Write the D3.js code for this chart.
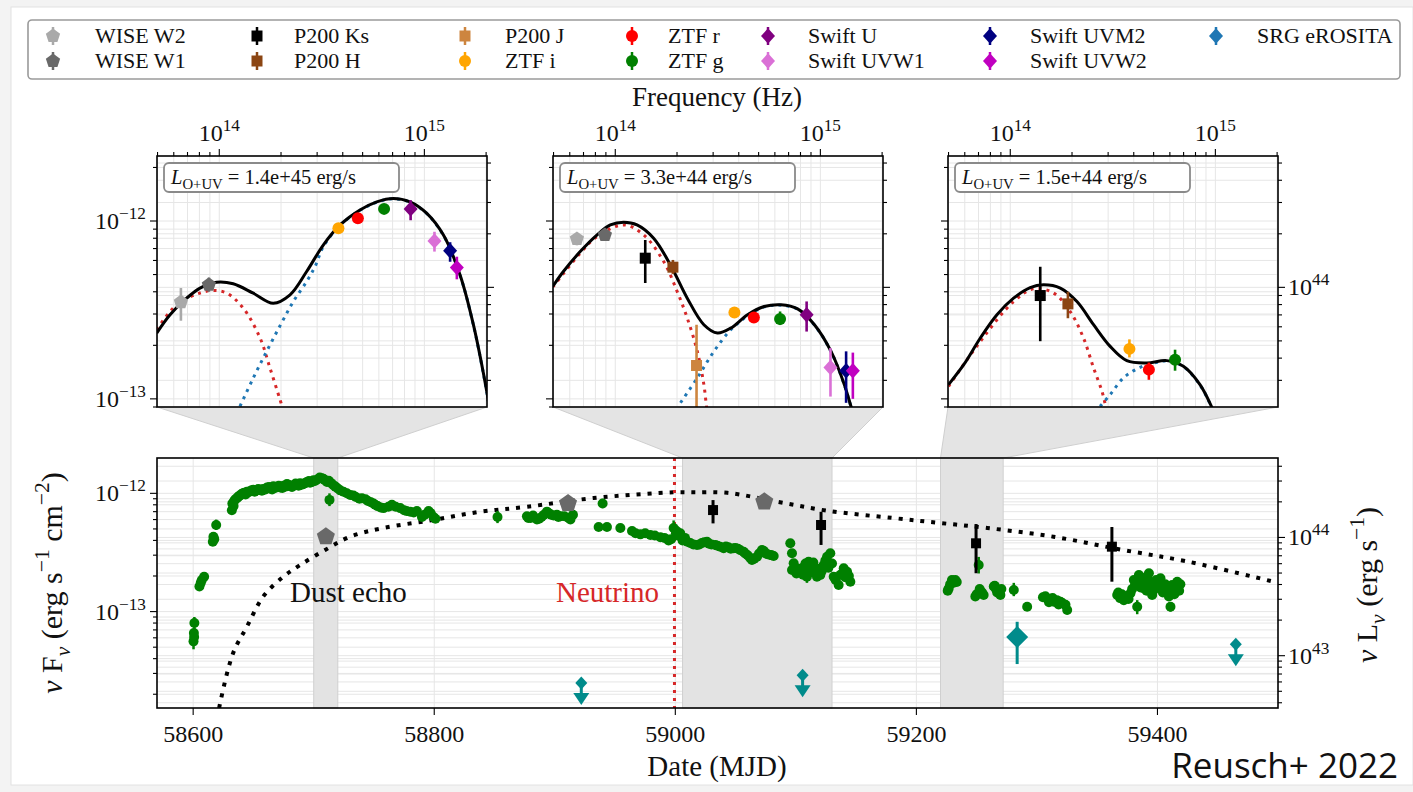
<!DOCTYPE html>
<html>
<head>
<meta charset="utf-8">
<script src="https://cdn.jsdelivr.net/npm/d3@7"></script>
<style>
  body { margin: 0; background: #f3f3f3; }
  svg { display: block; }
  text { font-family: "Liberation Serif", "Times New Roman", serif; fill: #111; }
</style>
</head>
<body>
<svg id="fig" width="1413" height="792"></svg>
<script>
// ---------------- data ----------------
const legendNames = ["WISE W2", "WISE W1", "P200 Ks", "P200 H", "P200 J", "ZTF i", "ZTF r",
  "ZTF g", "Swift U", "Swift UVW1", "Swift UVM2", "Swift UVW2", "SRG eROSITA"];
const bandFreq = {
  "WISE W2": 6.5e13, "WISE W1": 8.9e13, "P200 Ks": 1.40e14, "P200 H": 1.91e14,
  "P200 J": 2.49e14, "ZTF i": 3.81e14, "ZTF r": 4.74e14, "ZTF g": 6.36e14,
  "Swift U": 8.57e14, "Swift UVW1": 1.12e15, "Swift UVM2": 1.335e15, "Swift UVW2": 1.44e15
};

// SED points per epoch: [band, nuFnu, low, high]
const sed1Points = [
  ["WISE W2", 3.50e-13, 2.75e-13, 4.20e-13], ["WISE W1", 4.38e-13, 4.0e-13, 4.8e-13],
  ["ZTF i", 9.1e-13, 8.9e-13, 9.3e-13], ["ZTF r", 1.035e-12, 1.01e-12, 1.06e-12],
  ["ZTF g", 1.17e-12, 1.14e-12, 1.2e-12], ["Swift U", 1.17e-12, 1.01e-12, 1.31e-12],
  ["Swift UVW1", 7.73e-13, 6.73e-13, 8.7e-13], ["Swift UVM2", 6.81e-13, 5.9e-13, 7.6e-13],
  ["Swift UVW2", 5.47e-13, 4.7e-13, 6.3e-13]
];
const sed2Points = [
  ["WISE W2", 7.93e-13, 7.3e-13, 8.5e-13], ["WISE W1", 8.34e-13, 7.9e-13, 8.8e-13],
  ["P200 Ks", 6.18e-13, 4.48e-13, 7.82e-13], ["P200 H", 5.50e-13, 5.04e-13, 6.04e-13],
  ["P200 J", 1.54e-13, 8.0e-14, 2.61e-13], ["ZTF i", 3.06e-13, 2.98e-13, 3.14e-13],
  ["ZTF r", 2.87e-13, 2.8e-13, 2.95e-13], ["ZTF g", 2.81e-13, 2.6e-13, 3.1e-13],
  ["Swift U", 2.97e-13, 2.39e-13, 3.53e-13], ["Swift UVW1", 1.50e-13, 1.03e-13, 1.93e-13],
  ["Swift UVM2", 1.44e-13, 9.5e-14, 1.85e-13], ["Swift UVW2", 1.44e-13, 1.0e-13, 1.82e-13]
];
const sed3Points = [
  ["P200 Ks", 3.81e-13, 2.11e-13, 5.53e-13], ["P200 H", 3.42e-13, 2.84e-13, 4.0e-13],
  ["ZTF i", 1.91e-13, 1.71e-13, 2.16e-13], ["ZTF r", 1.46e-13, 1.28e-13, 1.6e-13],
  ["ZTF g", 1.66e-13, 1.44e-13, 1.89e-13]
];
const sedLabels = ["1.4e+45", "3.3e+44", "1.5e+44"];

// model curves: [log10 nu, log10 nuFnu]
const sed1Total = [[13.695,-12.630],[13.760,-12.527],[13.841,-12.434],[13.906,-12.377],[13.987,-12.344],
  [14.068,-12.353],[14.166,-12.406],[14.263,-12.462],[14.345,-12.415],[14.426,-12.284],[14.507,-12.135],
  [14.589,-12.022],[14.686,-11.938],[14.768,-11.892],[14.849,-11.873],[14.930,-11.892],[15.012,-11.957],
  [15.093,-12.079],[15.174,-12.303],[15.239,-12.583],[15.304,-12.957],[15.320,-13.07]];
const sed1Dust = [[13.695,-12.611],[13.792,-12.471],[13.906,-12.405],[13.971,-12.391],[14.036,-12.405],
  [14.117,-12.490],[14.199,-12.658],[14.247,-12.826],[14.296,-13.004],[14.311,-13.06]];
const sed1Hot = [[14.101,-13.042],[14.166,-12.882],[14.231,-12.733],[14.299,-12.583],[14.361,-12.453],
  [14.426,-12.340],[14.467,-12.256],[14.507,-12.145],[14.589,-12.024],[14.686,-11.940],[14.768,-11.894],
  [14.849,-11.875],[14.930,-11.894],[15.012,-11.959],[15.093,-12.081],[15.174,-12.305],[15.239,-12.585],
  [15.304,-12.959],[15.320,-13.07]];

const sed2Total = [[13.695,-12.368],[13.747,-12.284],[13.829,-12.172],[13.910,-12.079],[13.976,-12.022],
  [14.041,-12.007],[14.106,-12.022],[14.187,-12.097],[14.269,-12.247],[14.351,-12.434],[14.432,-12.583],
  [14.498,-12.630],[14.563,-12.602],[14.645,-12.527],[14.726,-12.481],[14.808,-12.471],[14.889,-12.494],
  [14.971,-12.583],[15.052,-12.733],[15.117,-12.920],[15.150,-13.045],[15.165,-13.1]];
const sed2Dust = [[13.695,-12.372],[13.829,-12.181],[13.910,-12.088],[14.041,-12.022],[14.139,-12.079],
  [14.236,-12.228],[14.302,-12.397],[14.351,-12.546],[14.400,-12.733],[14.432,-12.920],[14.445,-13.045],
  [14.450,-13.08]];
const sed2Hot = [[14.318,-13.022],[14.400,-12.882],[14.481,-12.733],[14.563,-12.611],[14.620,-12.555],
  [14.645,-12.530],[14.726,-12.483],[14.808,-12.473],[14.889,-12.496],[14.971,-12.585],[15.052,-12.735],
  [15.117,-12.922],[15.150,-13.047],[15.165,-13.1]];

const sed3Total = [[13.699,-12.920],[13.773,-12.808],[13.854,-12.658],[13.935,-12.527],[14.016,-12.434],
  [14.097,-12.374],[14.162,-12.359],[14.244,-12.377],[14.325,-12.453],[14.406,-12.583],[14.487,-12.705],
  [14.568,-12.785],[14.666,-12.798],[14.763,-12.785],[14.844,-12.817],[14.925,-12.920],[14.982,-13.045],
  [14.995,-13.08]];
const sed3Dust = [[13.699,-12.930],[13.854,-12.677],[14.016,-12.453],[14.114,-12.381],[14.211,-12.405],
  [14.292,-12.509],[14.357,-12.658],[14.406,-12.826],[14.447,-12.957],[14.463,-13.032],[14.468,-13.07]];
const sed3Hot = [[14.438,-13.042],[14.487,-12.976],[14.552,-12.882],[14.633,-12.823],[14.715,-12.795],
  [14.763,-12.787],[14.844,-12.819],[14.925,-12.922],[14.982,-13.047],[14.995,-13.08]];

// light curve: [MJD, nuFnu]
const ztfG = [
  [58600.3,5.6e-14],[58600.6,6.6e-14],[58601.0,8.0e-14],[58600.8,6.1e-14],[58605.2,1.63e-13],[58606.3,1.75e-13],
  [58607.2,1.85e-13],[58609.1,1.97e-13],[58616.3,3.9e-13],[58616.8,4.3e-13],[58617.5,4.1e-13],[58619.1,5.4e-13],
  [58632.1,7.2e-13],[58632.5,8.2e-13],[58634.0,8.6e-13],[58636.3,9.1e-13],[58638.0,9.5e-13],[58640.4,9.9e-13],
  [58642.5,1.01e-12],[58644.6,1.03e-12],[58647.0,1.04e-12],[58650.0,1.07e-12],[58652.5,1.06e-12],[58655.6,1.07e-12],
  [58658.0,1.09e-12],[58661.2,1.12e-12],[58664.0,1.10e-12],[58666.6,1.15e-12],[58669.5,1.13e-12],[58672.2,1.12e-12],
  [58675.0,1.16e-12],[58677.8,1.20e-12],[58680.5,1.15e-12],[58683.2,1.17e-12],[58686.0,1.19e-12],[58688.8,1.22e-12],
  [58691.5,1.20e-12],[58694.4,1.25e-12],[58697.0,1.23e-12],[58699.8,1.29e-12],[58703.0,1.31e-12],[58706.8,1.34e-12],
  [58709.0,1.30e-12],[58711.0,1.25e-12],[58713.1,8.8e-13],[58716.4,1.17e-12],[58720.0,1.10e-12],[58724.7,1.03e-12],
  [58727.5,1.00e-12],[58730.3,9.7e-13],[58735.0,9.3e-13],[58740.0,9.1e-13],[58745.0,8.6e-13],[58749.6,8.2e-13],
  [58753.0,7.8e-13],[58757.9,7.5e-13],[58764.9,8.0e-13],[58768.0,7.7e-13],[58771.8,7.5e-13],[58775.0,7.2e-13],
  [58780.1,7.0e-13],[58785.6,7.1e-13],[58789.8,6.3e-13],[58795.3,7.1e-13],[58797.0,6.8e-13],[58799.4,6.3e-13],
  [58633.5,7.8e-13],[58635.0,8.9e-13],[58637.2,9.3e-13],[58639.0,9.6e-13],[58641.5,1.0e-12],[58643.5,9.8e-13],
  [58646.0,1.02e-12],[58648.5,1.06e-12],[58651.0,1.03e-12],[58654.0,1.09e-12],[58657.0,1.05e-12],[58660.0,1.08e-12],
  [58663.0,1.13e-12],[58665.5,1.08e-12],[58668.0,1.11e-12],[58671.0,1.16e-12],[58674.0,1.11e-12],[58676.5,1.14e-12],
  [58679.0,1.18e-12],[58682.0,1.13e-12],[58685.0,1.21e-12],[58687.5,1.16e-12],[58690.0,1.18e-12],[58693.0,1.22e-12],
  [58696.0,1.27e-12],[58698.5,1.25e-12],[58701.0,1.27e-12],[58705.0,1.36e-12],[58708.0,1.33e-12],[58712.5,1.28e-12],
  [58714.5,1.22e-12],[58718.0,1.14e-12],[58722.0,1.06e-12],[58733.0,9.6e-13],[58738.0,9.0e-13],[58743.0,8.9e-13],
  [58747.5,8.4e-13],[58751.0,8.0e-13],[58755.5,7.6e-13],[58762.0,7.7e-13],[58777.0,7.1e-13],[58783.0,6.9e-13],
  [58792.0,6.6e-13],[58801.0,6.1e-13],
  [58852.5,6.3e-13],[58876.9,6.4e-13],[58880.0,6.2e-13],[58885.2,6.0e-13],[58889.0,6.3e-13],[58893.5,7.0e-13],
  [58897.0,6.6e-13],[58901.8,6.6e-13],[58905.0,6.4e-13],[58911.5,6.2e-13],[58915.1,6.6e-13],[58939.7,8.2e-13],
  [58878.0,6.2e-13],[58882.0,6.5e-13],[58887.0,6.1e-13],[58891.0,6.6e-13],[58895.0,6.8e-13],[58899.0,6.5e-13],
  [58903.0,6.3e-13],[58908.0,6.4e-13],[58913.0,6.0e-13],
  [58936.4,5.2e-13],[58943.3,5.2e-13],[58954.4,5.1e-13],[58964.1,4.8e-13],[58967.0,4.6e-13],[58971.0,4.5e-13],
  [58975.0,4.6e-13],[58979.3,4.45e-13],[58983.0,4.4e-13],[58987.6,4.25e-13],[58991.0,4.2e-13],[58994.4,4.0e-13],
  [58998.6,5.1e-13],[59000.5,4.6e-13],[59002.0,4.4e-13],[59004.1,4.6e-13],[59008.0,4.2e-13],[59012.4,3.8e-13],
  [59015.0,3.7e-13],[59018.0,3.66e-13],[59022.0,3.8e-13],[59026.3,3.9e-13],[59030.0,3.7e-13],[59033.2,3.66e-13],
  [59037.3,3.54e-13],[59040.1,3.43e-13],[59044.0,3.5e-13],[59048.4,3.43e-13],[59052.0,3.4e-13],[59056.7,3.21e-13],
  [59060.0,3.0e-13],[59063.6,2.73e-13],[59067.8,2.91e-13],[59071.9,3.32e-13],[59075.0,3.1e-13],[59078.8,3.01e-13],
  [59081.6,2.95e-13],
  [58996.5,4.1e-13],[59001.0,4.8e-13],[59006.0,4.0e-13],[59010.0,3.9e-13],[59020.0,3.7e-13],[59024.0,3.85e-13],
  [59028.0,3.75e-13],[59035.0,3.6e-13],[59042.0,3.55e-13],[59046.0,3.4e-13],[59050.0,3.45e-13],[59054.0,3.3e-13],
  [59058.0,3.1e-13],[59062.0,2.85e-13],[59065.5,2.8e-13],[59069.5,3.1e-13],[59073.5,3.25e-13],[59076.5,3.05e-13],
  [59080.0,3.0e-13],
  [59095.4,3.78e-13],[59096.8,3.11e-13],[59098.2,2.56e-13],[59096.8,2.25e-13],[59105.1,2.17e-13],
  [59107.0,2.4e-13],[59109.2,1.97e-13],[59110.6,2.64e-13],[59113.4,2.40e-13],[59116.2,2.25e-13],[59117.5,1.97e-13],
  [59120.3,2.04e-13],[59123.1,2.48e-13],[59125.9,2.91e-13],[59128.6,3.11e-13],[59131.4,1.97e-13],[59135.5,1.68e-13],
  [59139.7,2.32e-13],[59142.5,2.17e-13],[59145.2,1.79e-13],
  [59100.5,2.1e-13],[59103.0,2.3e-13],[59106.0,2.05e-13],[59108.0,2.55e-13],[59112.0,2.15e-13],[59114.5,2.6e-13],
  [59118.5,2.3e-13],[59121.5,2.2e-13],[59124.5,2.7e-13],[59127.0,2.35e-13],[59130.0,2.55e-13],[59133.0,1.85e-13],
  [59137.0,2.05e-13],[59141.0,1.95e-13],[59144.0,2.0e-13],
  [59226.8,1.57e-13],[59229.5,1.85e-13],[59232.3,1.85e-13],[59248.9,1.34e-13],[59251.7,2.48e-13],[59253.1,1.47e-13],
  [59255.8,1.38e-13],[59264.2,1.63e-13],[59266.0,1.55e-13],[59268.3,1.52e-13],[59269.7,1.38e-13],[59280.8,1.52e-13],
  [59228.0,1.7e-13],[59230.5,1.75e-13],[59233.5,1.78e-13],[59226.0,1.5e-13],[59250.0,1.4e-13],[59252.5,1.55e-13],
  [59254.5,1.45e-13],[59265.0,1.65e-13],[59267.0,1.45e-13],[59270.5,1.55e-13],
  [59291.9,1.10e-13],[59305.0,1.32e-13],[59308.5,1.29e-13],[59311.0,1.25e-13],[59314.0,1.21e-13],[59319.5,1.21e-13],
  [59323.7,1.14e-13],[59325.1,1.03e-13],
  [59307.0,1.35e-13],[59310.0,1.2e-13],[59313.0,1.3e-13],[59316.5,1.25e-13],[59318.0,1.15e-13],[59321.0,1.18e-13],
  [59366.6,1.38e-13],[59369.0,1.30e-13],[59372.1,1.25e-13],[59375.0,1.35e-13],[59377.6,1.43e-13],[59380.4,1.85e-13],
  [59383.2,1.10e-13],[59384.6,2.04e-13],[59386.0,1.6e-13],[59388.7,1.73e-13],[59391.0,1.5e-13],[59392.9,2.11e-13],
  [59395.6,1.38e-13],[59398.0,1.7e-13],[59402.5,1.91e-13],[59405.3,1.57e-13],[59407.0,1.45e-13],[59409.5,1.34e-13],
  [59410.8,1.10e-13],[59412.2,1.68e-13],[59415.0,1.52e-13],[59416.4,1.79e-13],[59418.0,1.5e-13],
  [59367.5,1.45e-13],[59370.5,1.4e-13],[59373.5,1.33e-13],[59376.0,1.28e-13],[59379.0,1.55e-13],[59381.5,1.7e-13],
  [59385.5,1.8e-13],[59387.5,1.9e-13],[59389.5,1.55e-13],[59390.5,1.95e-13],[59393.5,1.8e-13],[59394.5,1.6e-13],
  [59396.5,1.5e-13],[59399.0,1.85e-13],[59400.5,1.6e-13],[59403.5,1.7e-13],[59404.5,1.45e-13],[59406.5,1.7e-13],
  [59408.0,1.6e-13],[59411.0,1.45e-13],[59413.5,1.6e-13],[59414.0,1.4e-13],[59417.0,1.62e-13],[59419.0,1.7e-13]
];
// visible ZTF g error bars: [MJD, low, high]
const ztfGErr = [
  [58600.3,4.8e-14,6.6e-14],[58601.0,7.0e-14,9.0e-14],[58619.1,4.9e-13,6.0e-13],[58713.1,7.8e-13,1.0e-12],
  [58852.5,5.6e-13,7.1e-13],[58939.7,7.5e-13,9.0e-13],[58998.6,4.4e-13,5.9e-13],[59109.2,1.75e-13,2.2e-13],
  [59251.7,2.1e-13,2.9e-13],[59280.8,1.35e-13,1.75e-13],[59383.2,9.5e-14,1.25e-13],[59226.8,1.45e-13,1.7e-13],
  [59325.1,9.5e-14,1.12e-13],[59410.8,1.0e-13,1.2e-13]
];
const wiseW1 = [[58710.1, 4.30e-13], [58911.0, 8.22e-13], [59073.8, 8.49e-13]];
const p200Ks = [[59031.3, 7.22e-13, 5.57e-13, 8.77e-13], [59120.9, 5.40e-13, 3.66e-13, 6.98e-13],
  [59249.5, 3.78e-13, 2.11e-13, 5.5e-13], [59362.2, 3.54e-13, 1.79e-13, 5.19e-13]];
const erositaDet = [[59283.6, 6.1e-14, 3.6e-14, 8.2e-14]];
const erositaUL = [[58922.0, 2.49e-14], [59105.6, 2.9e-14], [59465.0, 5.3e-14]];
// dotted long-term model curve: [MJD, nuFnu]
const modelCurve = [[58621.6,1.53e-14],[58622.4,1.69e-14],[58633.2,4.47e-14],[58644.6,7.45e-14],[58658.1,1.34e-13],
  [58674.7,1.97e-13],[58688.8,2.48e-13],[58709.5,3.32e-13],[58730.3,4.30e-13],[58757.7,5.09e-13],[58799.2,5.95e-13],
  [58838.2,6.99e-13],[58877.2,7.70e-13],[58932.0,9.12e-13],[58998.3,1.02e-12],[59015.0,1.02e-12],[59043.2,1.01e-12],
  [59084.6,8.49e-13],[59126.1,7.13e-13],[59180.9,6.18e-13],[59219.9,5.61e-13],[59258.9,5.09e-13],[59313.7,4.30e-13],
  [59369.3,3.35e-13],[59424.9,2.65e-13],[59496.3,1.79e-13]];
const neutrinoMJD = 58999.3;
const sedWindows = [[58700, 58720], [59006, 59130], [59220, 59272]];
const mainXTicks = [58600, 58800, 59000, 59200, 59400];
const lumRatio = Math.pow(10, 56.373);   // nuLnu / nuFnu

// ---------------- styles ----------------
const bandStyle = {
  "WISE W2": { color: "#a9a9a9", shape: "pentagon" }, "WISE W1": { color: "#696969", shape: "pentagon" },
  "P200 Ks": { color: "#000000", shape: "square" }, "P200 H": { color: "#8b4513", shape: "square" },
  "P200 J": { color: "#cd853f", shape: "square" }, "ZTF i": { color: "#ffa500", shape: "circle" },
  "ZTF r": { color: "#ff0000", shape: "circle" }, "ZTF g": { color: "#008000", shape: "circle" },
  "Swift U": { color: "#800080", shape: "diamond" }, "Swift UVW1": { color: "#da70d6", shape: "diamond" },
  "Swift UVM2": { color: "#000080", shape: "diamond" }, "Swift UVW2": { color: "#c000c0", shape: "diamond" },
  "SRG eROSITA": { color: "#1f77b4", shape: "diamond" }
};
const markerSize = { circle: 6, square: 5.5, diamond: 7, pentagon: 7.5 };
const erositaColor = "#008b8b";

function markerPath(shape, r) {
  if (shape === "circle") return d3.symbol(d3.symbolCircle, Math.PI * r * r)();
  if (shape === "square") return `M${-r},${-r}h${2 * r}v${2 * r}h${-2 * r}Z`;
  if (shape === "diamond") return `M0,${-r * 1.1}L${r},0L0,${r * 1.1}L${-r},0Z`;
  const pts = d3.range(5).map(k => {
    const a = -Math.PI / 2 + k * 2 * Math.PI / 5;
    return [r * Math.cos(a), r * Math.sin(a)];
  });
  return "M" + pts.join("L") + "Z";
}

// text with super/subscripts: parts = [[string, mode]]
function rich(t, parts, size) {
  let shift = 0;
  parts.forEach(([s, mode]) => {
    const small = mode === "sup" || mode === "sub" || mode === "subi";
    const target = mode === "sup" ? -0.42 * size : small ? 0.25 * size : 0;
    const sp = t.append("tspan").attr("dy", target - shift).text(s);
    if (small) sp.attr("font-size", size * 0.72);
    if (mode === "it" || mode === "subi") sp.attr("font-style", "italic");
    shift = target;
  });
  return t;
}
function isDecade(v) { const l = Math.log10(v); return Math.abs(l - Math.round(l)) < 1e-6; }
function powLabel(v) { const e = Math.round(Math.log10(v)); return [["10", "n"], [String(e).replace("-", "\u2212"), "sup"]]; }

const svg = d3.select("#fig");
svg.append("rect").attr("x", 11).attr("y", 7).attr("width", 1402).attr("height", 778)
  .attr("fill", "#fff").attr("stroke", "#e2e2e2");
const defs = svg.append("defs");
const TICK = 24;

// ---------------- legend ----------------
const legend = svg.append("g");
legend.append("rect").attr("x", 28).attr("y", 20).attr("width", 1372).attr("height", 59).attr("rx", 4)
  .attr("fill", "#fff").attr("stroke", "#9a9a9a").attr("stroke-width", 1.6);
const legMarkX = [53, 257, 465, 632, 768, 990, 1216];
const legTextX = [95, 294, 505, 668, 808, 1030, 1257];
const legRowY = [36, 61];
legendNames.forEach((name, i) => {
  const col = Math.floor(i / 2), row = i % 2;
  const st = bandStyle[name];
  const g = legend.append("g").attr("transform", `translate(${legMarkX[col]},${legRowY[row]})`);
  g.append("line").attr("y1", -9).attr("y2", 9).attr("stroke", st.color).attr("stroke-width", 2.5);
  g.append("path").attr("d", markerPath(st.shape, markerSize[st.shape])).attr("fill", st.color);
  legend.append("text").attr("x", legTextX[col]).attr("y", legRowY[row] + 7)
    .attr("font-size", 22).text(name);
});

// ---------------- SED insets ----------------
const inset = { x0s: [157, 553, 948], w: 330, y0: 156, y1: 407 };
const xNu = d3.scaleLog().domain([4.97e13, 2.02e15]).range([0, inset.w]);
const yIn = d3.scaleLog().domain([9.0e-14, 2.32e-12]).range([inset.y1, inset.y0]);
const yInR = d3.scaleLog().domain(yIn.domain().map(v => v * lumRatio)).range([inset.y1, inset.y0]);

const seds = [
  { pts: sed1Points, total: sed1Total, dust: sed1Dust, hot: sed1Hot },
  { pts: sed2Points, total: sed2Total, dust: sed2Dust, hot: sed2Hot },
  { pts: sed3Points, total: sed3Total, dust: sed3Dust, hot: sed3Hot }
];

// connectors from insets to the shaded windows (drawn first, behind)
const xMain = d3.scaleLinear().domain([58570, 59500]).range([157, 1278]);
const main = { x0: 157, x1: 1278, y0: 458, y1: 708 };
sedWindows.forEach((win, i) => {
  const x0 = inset.x0s[i];
  svg.append("path")
    .attr("d", `M${x0},${inset.y1}L${x0 + inset.w},${inset.y1}L${xMain(win[1])},${main.y0}L${xMain(win[0])},${main.y0}Z`)
    .attr("fill", "#e4e4e4").attr("stroke", "#cfcfcf").attr("stroke-width", 1);
});

seds.forEach((sed, i) => {
  const x0 = inset.x0s[i];
  const g = svg.append("g").attr("transform", `translate(${x0},0)`);
  defs.append("clipPath").attr("id", "clipIn" + i).append("rect")
    .attr("x", 0).attr("y", inset.y0).attr("width", inset.w).attr("height", inset.y1 - inset.y0);
  g.append("rect").attr("x", 0).attr("y", inset.y0).attr("width", inset.w).attr("height", inset.y1 - inset.y0)
    .attr("fill", "#fff");

  const xt = xNu.ticks(), yt = yIn.ticks(), yrt = yInR.ticks();
  const grid = g.append("g").attr("stroke", "#e6e6e6").attr("stroke-width", 1);
  xt.forEach(v => grid.append("line").attr("x1", xNu(v)).attr("x2", xNu(v)).attr("y1", inset.y0).attr("y2", inset.y1));
  yt.forEach(v => grid.append("line").attr("x1", 0).attr("x2", inset.w).attr("y1", yIn(v)).attr("y2", yIn(v)));
  yrt.forEach(v => grid.append("line").attr("x1", 0).attr("x2", inset.w).attr("y1", yInR(v)).attr("y2", yInR(v)));

  const body = g.append("g").attr("clip-path", `url(#clipIn${i})`);
  const line = d3.line().x(d => xNu(Math.pow(10, d[0]))).y(d => yIn(Math.pow(10, d[1]))).curve(d3.curveCatmullRom);
  body.append("path").attr("d", line(sed.dust)).attr("fill", "none").attr("stroke", "#d62728")
    .attr("stroke-width", 3).attr("stroke-dasharray", "3,5");
  body.append("path").attr("d", line(sed.hot)).attr("fill", "none").attr("stroke", "#1f77b4")
    .attr("stroke-width", 3).attr("stroke-dasharray", "3,5");
  body.append("path").attr("d", line(sed.total)).attr("fill", "none").attr("stroke", "#000")
    .attr("stroke-width", 3);

  sed.pts.forEach(([band, f, lo, hi]) => {
    const st = bandStyle[band], cx = xNu(bandFreq[band]);
    body.append("line").attr("x1", cx).attr("x2", cx).attr("y1", yIn(lo)).attr("y2", yIn(hi))
      .attr("stroke", st.color).attr("stroke-width", 2.6);
    body.append("path").attr("d", markerPath(st.shape, markerSize[st.shape]))
      .attr("transform", `translate(${cx},${yIn(f)})`).attr("fill", st.color);
  });

  // frame and ticks
  g.append("rect").attr("x", 0).attr("y", inset.y0).attr("width", inset.w).attr("height", inset.y1 - inset.y0)
    .attr("fill", "none").attr("stroke", "#000").attr("stroke-width", 1.6);
  const tk = g.append("g").attr("stroke", "#000").attr("stroke-width", 1.1);
  xt.forEach(v => {
    const L = isDecade(v) ? 7 : 4;
    tk.append("line").attr("x1", xNu(v)).attr("x2", xNu(v)).attr("y1", inset.y0).attr("y2", inset.y0 - L);
    if (isDecade(v)) rich(g.append("text").attr("x", xNu(v)).attr("y", inset.y0 - 15).attr("text-anchor", "middle")
      .attr("font-size", TICK), powLabel(v), TICK);
  });
  yt.forEach(v => {
    const L = isDecade(v) ? 7 : 4;
    tk.append("line").attr("x1", 0).attr("x2", -L).attr("y1", yIn(v)).attr("y2", yIn(v));
    if (i === 0 && isDecade(v)) rich(g.append("text").attr("x", -11).attr("y", yIn(v) + 8).attr("text-anchor", "end")
      .attr("font-size", TICK), powLabel(v), TICK);
  });
  yrt.forEach(v => {
    const L = isDecade(v) ? 7 : 4;
    tk.append("line").attr("x1", inset.w).attr("x2", inset.w + L).attr("y1", yInR(v)).attr("y2", yInR(v));
    if (i === 2 && isDecade(v)) rich(g.append("text").attr("x", inset.w + 10).attr("y", yInR(v) + 8)
      .attr("font-size", TICK), powLabel(v), TICK);
  });

  // luminosity box
  g.append("rect").attr("x", 7).attr("y", 163).attr("width", 235).attr("height", 29).attr("rx", 5)
    .attr("fill", "#fff").attr("stroke", "#8a8a8a").attr("stroke-width", 1.8);
  rich(g.append("text").attr("x", 14).attr("y", 184).attr("font-size", 20.5),
    [["L", "it"], ["O+UV", "sub"], [` = ${sedLabels[i]} erg/s`, "n"]], 20.5);
});
svg.append("text").attr("x", 717).attr("y", 106).attr("text-anchor", "middle").attr("font-size", 27)
  .text("Frequency (Hz)");

// ---------------- main light curve ----------------
const yMain = d3.scaleLog().domain([1.53e-14, 1.99e-12]).range([main.y1, main.y0]);
const yMainR = d3.scaleLog().domain(yMain.domain().map(v => v * lumRatio)).range([main.y1, main.y0]);
const mg = svg.append("g");
mg.append("rect").attr("x", main.x0).attr("y", main.y0).attr("width", main.x1 - main.x0)
  .attr("height", main.y1 - main.y0).attr("fill", "#fff");
defs.append("clipPath").attr("id", "clipMain").append("rect")
  .attr("x", main.x0).attr("y", main.y0).attr("width", main.x1 - main.x0).attr("height", main.y1 - main.y0);

const mgrid = mg.append("g").attr("stroke", "#e6e6e6").attr("stroke-width", 1);
yMain.ticks().forEach(v => mgrid.append("line").attr("x1", main.x0).attr("x2", main.x1).attr("y1", yMain(v)).attr("y2", yMain(v)));
yMainR.ticks().forEach(v => mgrid.append("line").attr("x1", main.x0).attr("x2", main.x1).attr("y1", yMainR(v)).attr("y2", yMainR(v)));
mainXTicks.forEach(v => mgrid.append("line").attr("x1", xMain(v)).attr("x2", xMain(v)).attr("y1", main.y0).attr("y2", main.y1));

sedWindows.forEach(w => {
  mg.append("rect").attr("x", xMain(w[0])).attr("y", main.y0).attr("width", xMain(w[1]) - xMain(w[0]))
    .attr("height", main.y1 - main.y0).attr("fill", "#e3e3e3").attr("stroke", "#d0d0d0").attr("stroke-width", 1);
});

const mb = mg.append("g").attr("clip-path", "url(#clipMain)");
mb.append("path")
  .attr("d", d3.line().x(d => xMain(d[0])).y(d => yMain(d[1])).curve(d3.curveCatmullRom)(modelCurve))
  .attr("fill", "none").attr("stroke", "#000").attr("stroke-width", 4).attr("stroke-dasharray", "4,7");
mb.append("line").attr("x1", xMain(neutrinoMJD)).attr("x2", xMain(neutrinoMJD)).attr("y1", main.y0).attr("y2", main.y1)
  .attr("stroke", "#d62728").attr("stroke-width", 3).attr("stroke-dasharray", "3,5");

mb.selectAll(".gerr").data(ztfGErr).join("line")
  .attr("x1", d => xMain(d[0])).attr("x2", d => xMain(d[0])).attr("y1", d => yMain(d[1])).attr("y2", d => yMain(d[2]))
  .attr("stroke", "#008000").attr("stroke-width", 2.5);
mb.selectAll(".gpt").data(ztfG).join("circle")
  .attr("cx", d => xMain(d[0])).attr("cy", d => yMain(d[1])).attr("r", 5).attr("fill", "#008000");

mb.selectAll(".w1").data(wiseW1).join("path")
  .attr("d", markerPath("pentagon", 9.5)).attr("fill", "#696969")
  .attr("transform", d => `translate(${xMain(d[0])},${yMain(d[1])})`);

p200Ks.forEach(d => {
  mb.append("line").attr("x1", xMain(d[0])).attr("x2", xMain(d[0])).attr("y1", yMain(d[2])).attr("y2", yMain(d[3]))
    .attr("stroke", "#000").attr("stroke-width", 3);
  mb.append("path").attr("d", markerPath("square", 5)).attr("fill", "#000")
    .attr("transform", `translate(${xMain(d[0])},${yMain(d[1])})`);
});

erositaDet.forEach(d => {
  mb.append("line").attr("x1", xMain(d[0])).attr("x2", xMain(d[0])).attr("y1", yMain(d[2])).attr("y2", yMain(d[3]))
    .attr("stroke", erositaColor).attr("stroke-width", 3);
  mb.append("path").attr("d", `M0,-11L11,0L0,11L-11,0Z`).attr("fill", erositaColor)
    .attr("transform", `translate(${xMain(d[0])},${yMain(d[1])})`);
});
erositaUL.forEach(d => {
  const cx = xMain(d[0]), cy = yMain(d[1]);
  mb.append("line").attr("x1", cx).attr("x2", cx).attr("y1", cy).attr("y2", cy + 18)
    .attr("stroke", erositaColor).attr("stroke-width", 3);
  mb.append("path").attr("d", `M${cx - 8},${cy + 10}L${cx + 8},${cy + 10}L${cx},${cy + 22}Z`).attr("fill", erositaColor);
  mb.append("path").attr("d", `M0,-6.5L6,0L0,6.5L-6,0Z`).attr("fill", erositaColor)
    .attr("transform", `translate(${cx},${cy})`);
});

mg.append("text").attr("x", 290).attr("y", 602).attr("font-size", 29).text("Dust echo");
mg.append("text").attr("x", 556).attr("y", 602).attr("font-size", 29).style("fill", "#d62728").text("Neutrino");

mg.append("rect").attr("x", main.x0).attr("y", main.y0).attr("width", main.x1 - main.x0)
  .attr("height", main.y1 - main.y0).attr("fill", "none").attr("stroke", "#000").attr("stroke-width", 1.6);
const mt = mg.append("g").attr("stroke", "#000").attr("stroke-width", 1.1);
yMain.ticks().forEach(v => {
  const L = isDecade(v) ? 7 : 4;
  mt.append("line").attr("x1", main.x0).attr("x2", main.x0 - L).attr("y1", yMain(v)).attr("y2", yMain(v));
  if (isDecade(v)) rich(mg.append("text").attr("x", main.x0 - 11).attr("y", yMain(v) + 8).attr("text-anchor", "end")
    .attr("font-size", TICK), powLabel(v), TICK);
});
yMainR.ticks().forEach(v => {
  const L = isDecade(v) ? 7 : 4;
  mt.append("line").attr("x1", main.x1).attr("x2", main.x1 + L).attr("y1", yMainR(v)).attr("y2", yMainR(v));
  if (isDecade(v)) rich(mg.append("text").attr("x", main.x1 + 10).attr("y", yMainR(v) + 8)
    .attr("font-size", TICK), powLabel(v), TICK);
});
mainXTicks.forEach(v => {
  mt.append("line").attr("x1", xMain(v)).attr("x2", xMain(v)).attr("y1", main.y1).attr("y2", main.y1 + 7);
  mg.append("text").attr("x", xMain(v)).attr("y", 742).attr("text-anchor", "middle").attr("font-size", TICK).text(v);
});
mg.append("text").attr("x", 717).attr("y", 776).attr("text-anchor", "middle").attr("font-size", 29).text("Date (MJD)");

rich(mg.append("text").attr("transform", "translate(62,583) rotate(-90)").attr("text-anchor", "middle")
  .attr("font-size", 30), [["\u03bd", "it"], [" F", "n"], ["\u03bd", "subi"], [" (erg s", "n"], ["\u22121", "sup"],
  [" cm", "n"], ["\u22122", "sup"], [")", "n"]], 30);
rich(mg.append("text").attr("transform", "translate(1377,585) rotate(-90)").attr("text-anchor", "middle")
  .attr("font-size", 30), [["\u03bd", "it"], [" L", "n"], ["\u03bd", "subi"], [" (erg s", "n"], ["\u22121", "sup"],
  [")", "n"]], 30);

svg.append("text").attr("x", 1398).attr("y", 778).attr("text-anchor", "end")
  .style("font-family", "'Open Sans', sans-serif").attr("font-size", 35).text("Reusch+ 2022");
</script>
</body>
</html>
